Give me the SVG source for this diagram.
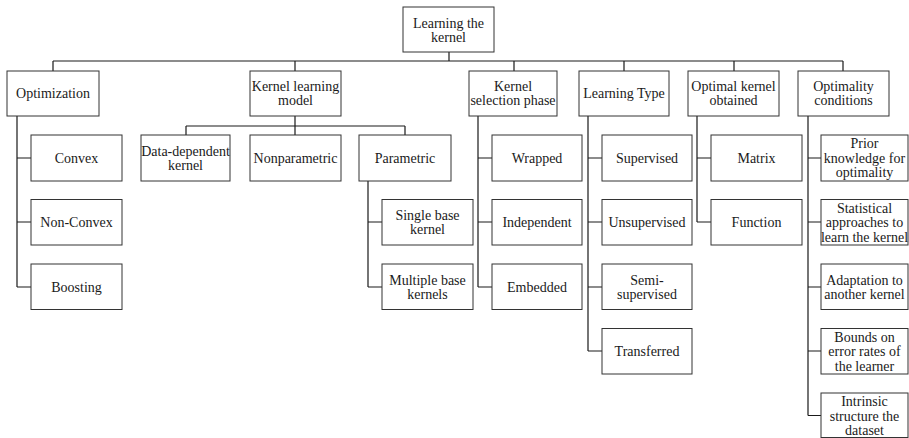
<svg xmlns="http://www.w3.org/2000/svg" width="909" height="438" viewBox="0 0 909 438">
<style>
rect{fill:#fff;stroke:#333;stroke-width:1}
text{font-family:"Liberation Serif","Times New Roman",serif;font-size:14px;fill:#1a1a1a;text-anchor:middle}
#connectors path{fill:none;stroke:#1a1a1a;stroke-width:1.2}
</style>
<rect x="0" y="0" width="909" height="438" style="stroke:none"/>
<g id="connectors">
<path d="M449 52V61M53 61H843M53 61V71M295 61V71M514 61V71M624 61V71M734 61V71M843 61V71"/>
<path d="M295 116V135M186 126H405M186 126V135M405 126V135"/>
<path d="M17 116V287M17 158H31M17 222H31M17 287H31"/>
<path d="M368 181V287M368 222H382M368 287H382"/>
<path d="M478 116V287M478 158H492M478 222H492M478 287H492"/>
<path d="M588 116V351M588 158H602M588 222H602M588 287H602M588 351H602"/>
<path d="M697 116V222M697 158H711M697 222H711"/>
<path d="M808 116V415.5M808 158H821M808 222H821M808 287H821M808 351H821M808 415.5H821"/>
</g>
<g id="root"><rect x="403" y="7" width="91" height="45"/><text x="448.5" y="28">Learning the</text><text x="448.5" y="42">kernel</text></g>
<g id="optimization"><rect x="7" y="71" width="92" height="45"/><text x="53" y="98">Optimization</text></g>
<g id="kernel-learning-model"><rect x="250" y="71" width="91" height="45"/><text x="295.5" y="91">Kernel learning</text><text x="295.5" y="105">model</text></g>
<g id="kernel-selection-phase"><rect x="469" y="71" width="88" height="45"/><text x="513" y="91">Kernel</text><text x="513" y="105">selection phase</text></g>
<g id="learning-type"><rect x="579" y="71" width="90" height="45"/><text x="624" y="98">Learning Type</text></g>
<g id="optimal-kernel-obtained"><rect x="688" y="71" width="91" height="45"/><text x="733.5" y="91">Optimal kernel</text><text x="733.5" y="105">obtained</text></g>
<g id="optimality-conditions"><rect x="798" y="71" width="91" height="45"/><text x="843.5" y="91">Optimality</text><text x="843.5" y="105">conditions</text></g>

<g id="convex"><rect x="31" y="135" width="91" height="46"/><text x="76.5" y="162.5">Convex</text></g>
<g id="non-convex"><rect x="31" y="199.5" width="91" height="45.5"/><text x="76.5" y="227">Non-Convex</text></g>
<g id="boosting"><rect x="31" y="264" width="91" height="45.5"/><text x="76.5" y="291.5">Boosting</text></g>

<g id="data-dependent"><rect x="141" y="135" width="89" height="46"/><text x="185.5" y="156">Data-dependent</text><text x="185.5" y="170">kernel</text></g>
<g id="nonparametric"><rect x="250" y="135" width="91" height="46"/><text x="295.5" y="162.5">Nonparametric</text></g>
<g id="parametric"><rect x="359" y="135" width="92" height="46"/><text x="405" y="162.5">Parametric</text></g>
<g id="single-base"><rect x="382" y="199.5" width="91" height="45.5"/><text x="427.5" y="220">Single base</text><text x="427.5" y="234">kernel</text></g>
<g id="multiple-base"><rect x="382" y="264" width="91" height="45.5"/><text x="427.5" y="284.5">Multiple base</text><text x="427.5" y="298.5">kernels</text></g>

<g id="wrapped"><rect x="492" y="135" width="90" height="46"/><text x="537" y="162.5">Wrapped</text></g>
<g id="independent"><rect x="492" y="199.5" width="90" height="45.5"/><text x="537" y="227">Independent</text></g>
<g id="embedded"><rect x="492" y="264" width="90" height="45.5"/><text x="537" y="291.5">Embedded</text></g>

<g id="supervised"><rect x="602" y="135" width="90" height="46"/><text x="647" y="162.5">Supervised</text></g>
<g id="unsupervised"><rect x="602" y="199.5" width="90" height="45.5"/><text x="647" y="227">Unsupervised</text></g>
<g id="semi-supervised"><rect x="602" y="264" width="90" height="45.5"/><text x="647" y="284.5">Semi-</text><text x="647" y="298.5">supervised</text></g>
<g id="transferred"><rect x="602" y="328.5" width="90" height="45.5"/><text x="647" y="356">Transferred</text></g>

<g id="matrix"><rect x="711" y="135" width="91" height="46"/><text x="756.5" y="162.5">Matrix</text></g>
<g id="function"><rect x="711" y="199.5" width="91" height="45.5"/><text x="756.5" y="227">Function</text></g>

<g id="prior-knowledge"><rect x="821" y="135" width="87" height="46"/><text x="864.5" y="148">Prior</text><text x="864.5" y="162.5">knowledge for</text><text x="864.5" y="177">optimality</text></g>
<g id="statistical"><rect x="821" y="199.5" width="87" height="45.5"/><text x="864.5" y="212.5">Statistical</text><text x="864.5" y="227">approaches to</text><text x="864.5" y="241.5">learn the kernel</text></g>
<g id="adaptation"><rect x="821" y="264" width="87" height="45.5"/><text x="864.5" y="284.5">Adaptation to</text><text x="864.5" y="298.5">another kernel</text></g>
<g id="bounds"><rect x="821" y="328.5" width="87" height="45.5"/><text x="864.5" y="341.5">Bounds on</text><text x="864.5" y="356">error rates of</text><text x="864.5" y="370.5">the learner</text></g>
<g id="intrinsic"><rect x="821" y="393" width="87" height="44.5"/><text x="864.5" y="406">Intrinsic</text><text x="864.5" y="420.5">structure the</text><text x="864.5" y="435">dataset</text></g>
</svg>
